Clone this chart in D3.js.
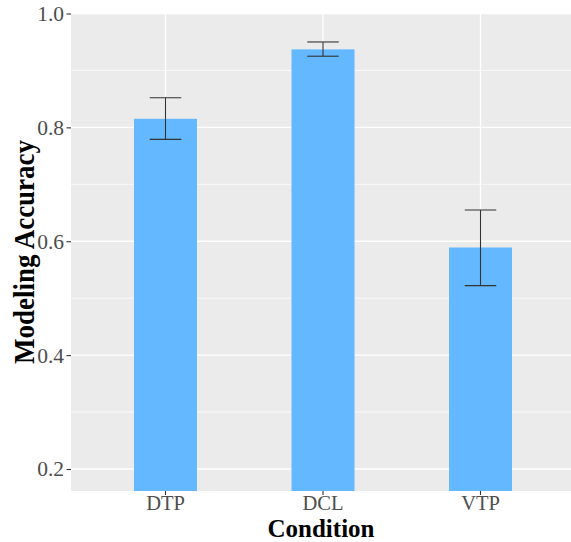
<!DOCTYPE html>
<html><head><meta charset="utf-8">
<script src="https://cdn.jsdelivr.net/npm/d3@7"></script>
<style>body{margin:0;background:#fff}svg{display:block}</style>
</head><body>
<script>
const categories = ["DTP", "DCL", "VTP"];
const means = [0.815, 0.937, 0.589];
const errLow = [0.779, 0.925, 0.522];
const errHigh = [0.852, 0.950, 0.655];
const yTicks = [0.2, 0.4, 0.6, 0.8, 1.0];
const yMinor = [0.3, 0.5, 0.7, 0.9];

const W = 571, H = 542;
const pL = 71, pR = 575, pT = 13, pB = 491;

const svg = d3.select("body").append("svg").attr("width", W).attr("height", H);

const x = d3.scaleBand().domain(categories).range([pL, pR]).paddingInner(0).paddingOuter(0.1);
const y = d3.scaleLinear().domain([0.2, 1.0]).range([469, 13.5]);

svg.append("rect").attr("x", pL).attr("y", pT).attr("width", pR - pL).attr("height", pB - pT).attr("fill", "#EBEBEB");

svg.append("clipPath").attr("id", "pc").append("rect")
  .attr("x", pL).attr("y", pT).attr("width", pR - pL).attr("height", pB - pT);
const g = svg.append("g").attr("clip-path", "url(#pc)");

g.selectAll(".minor").data(yMinor).join("line")
  .attr("x1", pL).attr("x2", pR).attr("y1", d => y(d)).attr("y2", d => y(d))
  .attr("stroke", "#fff").attr("stroke-width", 0.7);
g.selectAll(".major").data(yTicks).join("line")
  .attr("x1", pL).attr("x2", pR).attr("y1", d => y(d)).attr("y2", d => y(d))
  .attr("stroke", "#fff").attr("stroke-width", 1.3);
g.selectAll(".vmajor").data(categories).join("line")
  .attr("x1", d => x(d) + x.bandwidth() / 2).attr("x2", d => x(d) + x.bandwidth() / 2)
  .attr("y1", pT).attr("y2", pB)
  .attr("stroke", "#fff").attr("stroke-width", 1.3);

const bw = x.bandwidth() * 0.4;
g.selectAll(".bar").data(categories).join("rect")
  .attr("x", d => x(d) + x.bandwidth() / 2 - bw / 2)
  .attr("width", bw)
  .attr("y", (d, i) => y(means[i]))
  .attr("height", (d, i) => pB - y(means[i]))
  .attr("fill", "#63B8FF");

const cw = x.bandwidth() * 0.2;
categories.forEach((c, i) => {
  const cx = x(c) + x.bandwidth() / 2;
  const eg = g.append("g").attr("stroke", "#333").attr("stroke-width", 1.1);
  eg.append("line").attr("x1", cx).attr("x2", cx).attr("y1", y(errLow[i])).attr("y2", y(errHigh[i]));
  eg.append("line").attr("x1", cx - cw / 2).attr("x2", cx + cw / 2).attr("y1", y(errLow[i])).attr("y2", y(errLow[i]));
  eg.append("line").attr("x1", cx - cw / 2).attr("x2", cx + cw / 2).attr("y1", y(errHigh[i])).attr("y2", y(errHigh[i]));
});

const font = "'Liberation Serif', 'Times New Roman', serif";

const yAxis = svg.append("g").attr("transform", `translate(${pL},0)`)
  .call(d3.axisLeft(y).tickValues(yTicks).tickFormat(d3.format(".1f")).tickSize(4.5).tickPadding(2.5));
yAxis.select(".domain").remove();
yAxis.selectAll(".tick line").attr("stroke", "#333").attr("stroke-width", 1.1);
yAxis.selectAll(".tick text").attr("fill", "#4D4D4D").style("font-family", font).style("font-size", "21.5px");

const xAxis = svg.append("g").attr("transform", `translate(0,${pB})`)
  .call(d3.axisBottom(x).tickSize(4).tickPadding(0));
xAxis.select(".domain").remove();
xAxis.selectAll(".tick line").attr("stroke", "#333").attr("stroke-width", 1.1);
xAxis.selectAll(".tick text").attr("fill", "#4D4D4D").style("font-family", font).style("font-size", "20.5px");

svg.append("text").attr("x", (pL + W) / 2).attr("y", 536.5)
  .attr("text-anchor", "middle").style("font-family", font).style("font-weight", "bold").style("font-size", "25px")
  .attr("fill", "#000").text("Condition");

svg.append("text").attr("transform", `translate(34,${(pT + pB) / 2}) rotate(-90) scale(1,1.12)`)
  .attr("text-anchor", "middle").style("font-family", font).style("font-weight", "bold").style("font-size", "27px")
  .attr("fill", "#000").text("Modeling Accuracy");
</script>
</body></html>
